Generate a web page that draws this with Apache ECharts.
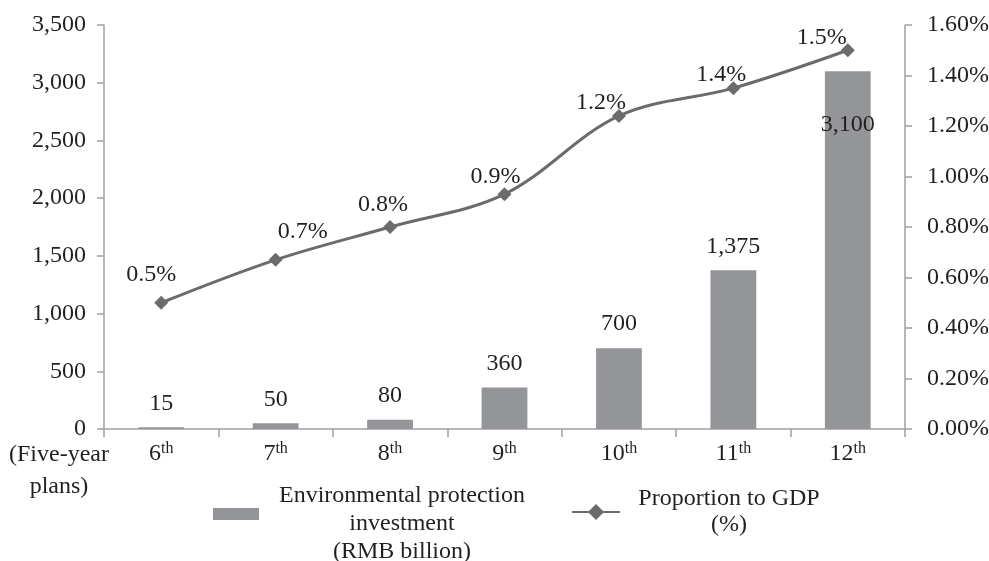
<!DOCTYPE html>
<html><head><meta charset="utf-8">
<script src="https://cdn.jsdelivr.net/npm/echarts@6/dist/echarts.min.js"></script>
<style>html,body{margin:0;padding:0;background:#fff}#c{width:989px;height:561px}</style>
</head><body><div id="c"></div>
<script>
const categories = ['6', '7', '8', '9', '10', '11', '12'];
const investment = [15, 50, 80, 360, 700, 1375, 3100];
const investmentLabels = ['15', '50', '80', '360', '700', '1,375', '3,100'];
const proportion = [0.5, 0.67, 0.8, 0.93, 1.24, 1.35, 1.5];
const proportionLabels = ['0.5%', '0.7%', '0.8%', '0.9%', '1.2%', '1.4%', '1.5%'];
const leftTicks = {min: 0, max: 3500, interval: 500};
const rightTicks = {min: 0, max: 1.6, interval: 0.2};
const seriesNames = ['Environmental protection investment (RMB billion)', 'Proportion to GDP (%)'];

const FONT = "'Liberation Serif', 'DejaVu Serif', serif";
const FS = 24;
const TXT = '#231f20';
const lineLabelOffsets = [[-10, -28], [27, -28], [-7, -22], [-9, -17], [-18, -13], [-12, -13], [-26, -13]];

const chart = echarts.init(document.getElementById('c'), null, {renderer: 'canvas'});
const axisGray = '#a0a0a2';

chart.setOption({
  animation: false,
  textStyle: {fontFamily: FONT, color: TXT},
  grid: {left: 104, right: 84, top: 25, bottom: 132, containLabel: false, outerBoundsMode: 'none'},
  xAxis: {
    type: 'category',
    data: categories,
    boundaryGap: true,
    axisLine: {lineStyle: {color: axisGray, width: 1.5}},
    axisTick: {show: true, length: 8, interval: 0, lineStyle: {color: axisGray, width: 1.5}},
    axisLabel: {
      interval: 0, margin: 12,
      formatter: v => '{n|' + v + '}{s|th}',
      rich: {
        n: {fontFamily: FONT, fontSize: FS, color: TXT, lineHeight: 26},
        s: {fontFamily: FONT, fontSize: 16, color: TXT, verticalAlign: 'top', lineHeight: 16}
      }
    }
  },
  yAxis: [
    {
      type: 'value', min: leftTicks.min, max: leftTicks.max, interval: leftTicks.interval,
      splitLine: {show: false},
      axisLine: {show: true, lineStyle: {color: axisGray, width: 1.5}},
      axisTick: {show: true, length: 7, lineStyle: {color: axisGray, width: 1.5}},
      axisLabel: {margin: 18, fontFamily: FONT, fontSize: FS, color: TXT,
        formatter: v => v.toLocaleString('en-US')}
    },
    {
      type: 'value', min: rightTicks.min, max: rightTicks.max, interval: rightTicks.interval,
      splitLine: {show: false},
      axisLine: {show: true, lineStyle: {color: axisGray, width: 1.5}},
      axisTick: {show: true, length: 7, lineStyle: {color: axisGray, width: 1.5}},
      axisLabel: {margin: 22, fontFamily: FONT, fontSize: FS, color: TXT,
        formatter: v => v.toFixed(2) + '%'}
    }
  ],
  legend: [
    {
      data: [seriesNames[0]], left: 208, top: 479, itemWidth: 46, itemHeight: 12, itemGap: 0,
      icon: 'rect',
      formatter: () => '{c|Environmental protection}\n{c|investment}\n{c|(RMB billion)}',
      textStyle: {padding: [20, 0, 0, 0], rich: {c: {fontFamily: FONT, fontSize: FS, color: TXT, width: 276, align: 'center', lineHeight: 28}}}
    },
    {
      data: [seriesNames[1]], left: 566, top: 482, itemWidth: 48, itemHeight: 20, itemGap: 0,
      formatter: () => '{c|Proportion to GDP}\n{c|(%)}',
      textStyle: {rich: {c: {fontFamily: FONT, fontSize: FS, color: TXT, width: 208, align: 'center', lineHeight: 26}}}
    }
  ],
  graphic: [
    {type: 'text', x: 59, y: 439, style: {text: '(Five-year\nplans)', font: FS + "px 'Liberation Serif', serif", fill: TXT, align: 'center', verticalAlign: 'top', lineHeight: 32}}
  ],
  series: [
    {
      name: seriesNames[0], type: 'bar', yAxisIndex: 0, barWidth: '40%',
      itemStyle: {color: '#939598'},
      data: investment.map((v, i) => ({
        value: v,
        label: i === investment.length - 1
          ? {show: true, position: 'insideTop', distance: 42, formatter: investmentLabels[i]}
          : {show: true, position: 'top', distance: 12, formatter: investmentLabels[i]}
      })),
      label: {fontFamily: FONT, fontSize: FS, color: TXT}
    },
    {
      name: seriesNames[1], type: 'line', yAxisIndex: 1, smooth: 0.35,
      symbol: 'diamond', symbolSize: 14,
      lineStyle: {color: '#6b6b6d', width: 3},
      itemStyle: {color: '#6b6b6d'},
      data: proportion.map((v, i) => ({
        value: v,
        label: {show: true, position: 'inside', offset: lineLabelOffsets[i], formatter: proportionLabels[i]}
      })),
      label: {fontFamily: FONT, fontSize: FS, color: TXT}
    }
  ]
});
</script></body></html>
